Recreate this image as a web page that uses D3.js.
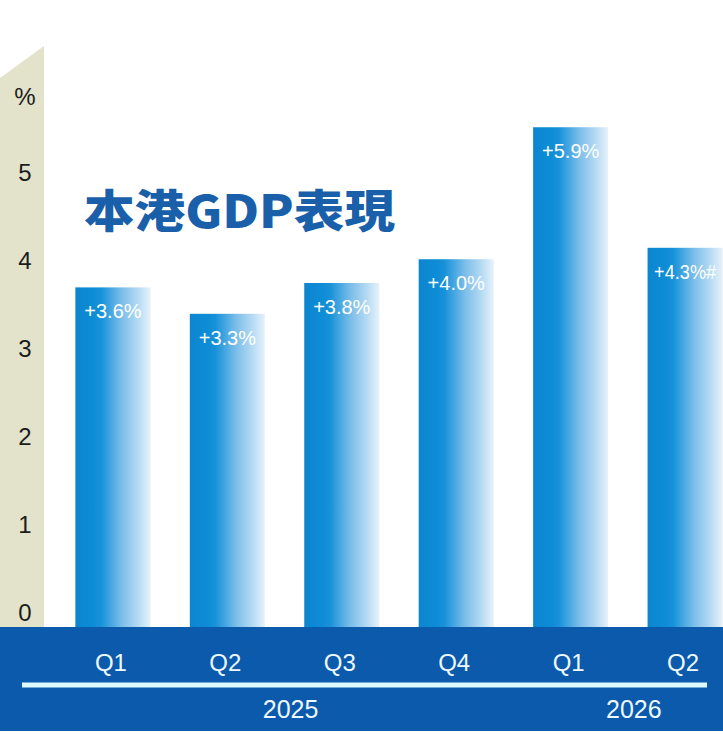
<!DOCTYPE html>
<html><head><meta charset="utf-8">
<script src="https://cdn.jsdelivr.net/npm/d3@7"></script>
<style>html,body{margin:0;padding:0;background:#fff;overflow:hidden}</style>
</head><body>
<svg id="c" width="723" height="734"></svg>
<script>
// ---- data ----
const quarters = ["Q1", "Q2", "Q3", "Q4", "Q1", "Q2"];
const years = ["2025", "2025", "2025", "2025", "2026", "2026"];
const barValues = [3.7, 3.4, 3.75, 4.02, 5.52, 4.15];        // drawn bar heights (%)
const growthLabels = ["+3.6%", "+3.3%", "+3.8%", "+4.0%", "+5.9%", "+4.3%#"];
const yTicks = [0, 1, 2, 3, 4, 5];
const titleText = "本港GDP表現";

const W = 723, H = 734;
const svg = d3.select("#c");
const bandTop = 627, bandBottom = 731;

const x = d3.scaleBand().domain(d3.range(quarters.length))
  .range([36, 762]).paddingInner(0.344).paddingOuter(0.344);
const y = d3.scaleLinear().domain([0, 6]).range([613, 613 - 6 * 88]);

const defs = svg.append("defs");
const g = defs.append("linearGradient").attr("id", "barGrad").attr("x1", 0).attr("x2", 1).attr("y1", 0).attr("y2", 0);
[[0, "#0985d0"], [0.33, "#1390d8"], [0.47, "#45a6e1"], [0.62, "#7cbee9"], [0.82, "#b1d8f2"], [1, "#e6f2fb"]]
  .forEach(([o, c]) => g.append("stop").attr("offset", o).attr("stop-color", c));
const blur = defs.append("filter").attr("id", "glow").attr("x", "-20%").attr("width", "140%");
blur.append("feGaussianBlur").attr("stdDeviation", 0.6);

// left wall strip
svg.append("polygon").attr("points", `0,78 44,46 44,${bandTop} 0,${bandTop}`).attr("fill", "#e3e3cb");

// y axis
const yAxis = d3.axisLeft(y).tickValues(yTicks).tickSize(0).tickPadding(0).tickFormat(d3.format("d"));
const ya = svg.append("g").attr("transform", "translate(34,0)").call(yAxis);
ya.select(".domain").remove();
ya.selectAll("text").attr("font-family", "'Liberation Sans', Arial, sans-serif")
  .attr("font-size", 24).attr("fill", "#1c1c1c").attr("text-anchor", "middle").attr("x", -9);
svg.append("text").attr("x", 25).attr("y", 97).attr("dy", "0.35em").attr("text-anchor", "middle")
  .attr("font-family", "'Liberation Sans', Arial, sans-serif").attr("font-size", 24).attr("fill", "#1c1c1c").text("%");

// bars
svg.append("g").selectAll("rect").data(barValues).join("rect")
  .attr("x", (d, i) => x(i)).attr("width", x.bandwidth())
  .attr("y", d => y(d)).attr("height", d => bandTop - y(d))
  .attr("fill", "url(#barGrad)").attr("filter", "url(#glow)");

// bar labels
svg.append("g").selectAll("text").data(growthLabels).join("text")
  .attr("x", (d, i) => x(i) + x.bandwidth() / 2)
  .attr("y", (d, i) => y(barValues[i]) + 31)
  .attr("text-anchor", "middle")
  .attr("font-family", "'Liberation Sans', Arial, sans-serif").attr("font-size", 20)
  .attr("fill", "#ffffff").text(d => d)
  .each(function (d) { if (d.length > 5) d3.select(this).attr("textLength", 62).attr("lengthAdjust", "spacingAndGlyphs"); });

// title
svg.append("text").attr("x", 84).attr("y", 228)
  .attr("font-family", "'Noto Sans CJK TC', 'Noto Sans CJK SC', sans-serif")
  .attr("font-weight", 900).attr("font-size", 45)
  .attr("textLength", 311).attr("lengthAdjust", "spacingAndGlyphs")
  .attr("fill", "#1a5faa").text(titleText);

// bottom band
svg.append("rect").attr("x", 0).attr("y", bandTop).attr("width", W).attr("height", bandBottom - bandTop).attr("fill", "#0b5aab");

// quarter labels
svg.append("g").selectAll("text").data(quarters).join("text")
  .attr("x", (d, i) => x(i) + x.bandwidth() / 2 - 2).attr("y", 662).attr("dy", "0.36em")
  .attr("text-anchor", "middle").attr("font-family", "'Liberation Sans', Arial, sans-serif")
  .attr("font-size", 24).attr("fill", "#eef9ff").text(d => d);

// separator line
svg.append("line").attr("x1", 22).attr("x2", 707).attr("y1", 685).attr("y2", 685)
  .attr("stroke", "#dffaff").attr("stroke-width", 5);

// year labels
const yearGroups = d3.groups(d3.range(years.length), i => years[i]);
svg.append("g").selectAll("text").data(yearGroups).join("text")
  .attr("x", ([yr, idx]) => (x(idx[0]) + x(idx[idx.length - 1]) + x.bandwidth()) / 2 + 6)
  .attr("y", 709).attr("dy", "0.36em").attr("text-anchor", "middle")
  .attr("font-family", "'Liberation Sans', Arial, sans-serif").attr("font-size", 25)
  .attr("fill", "#eef9ff").text(d => d[0]);
</script>
</body></html>
